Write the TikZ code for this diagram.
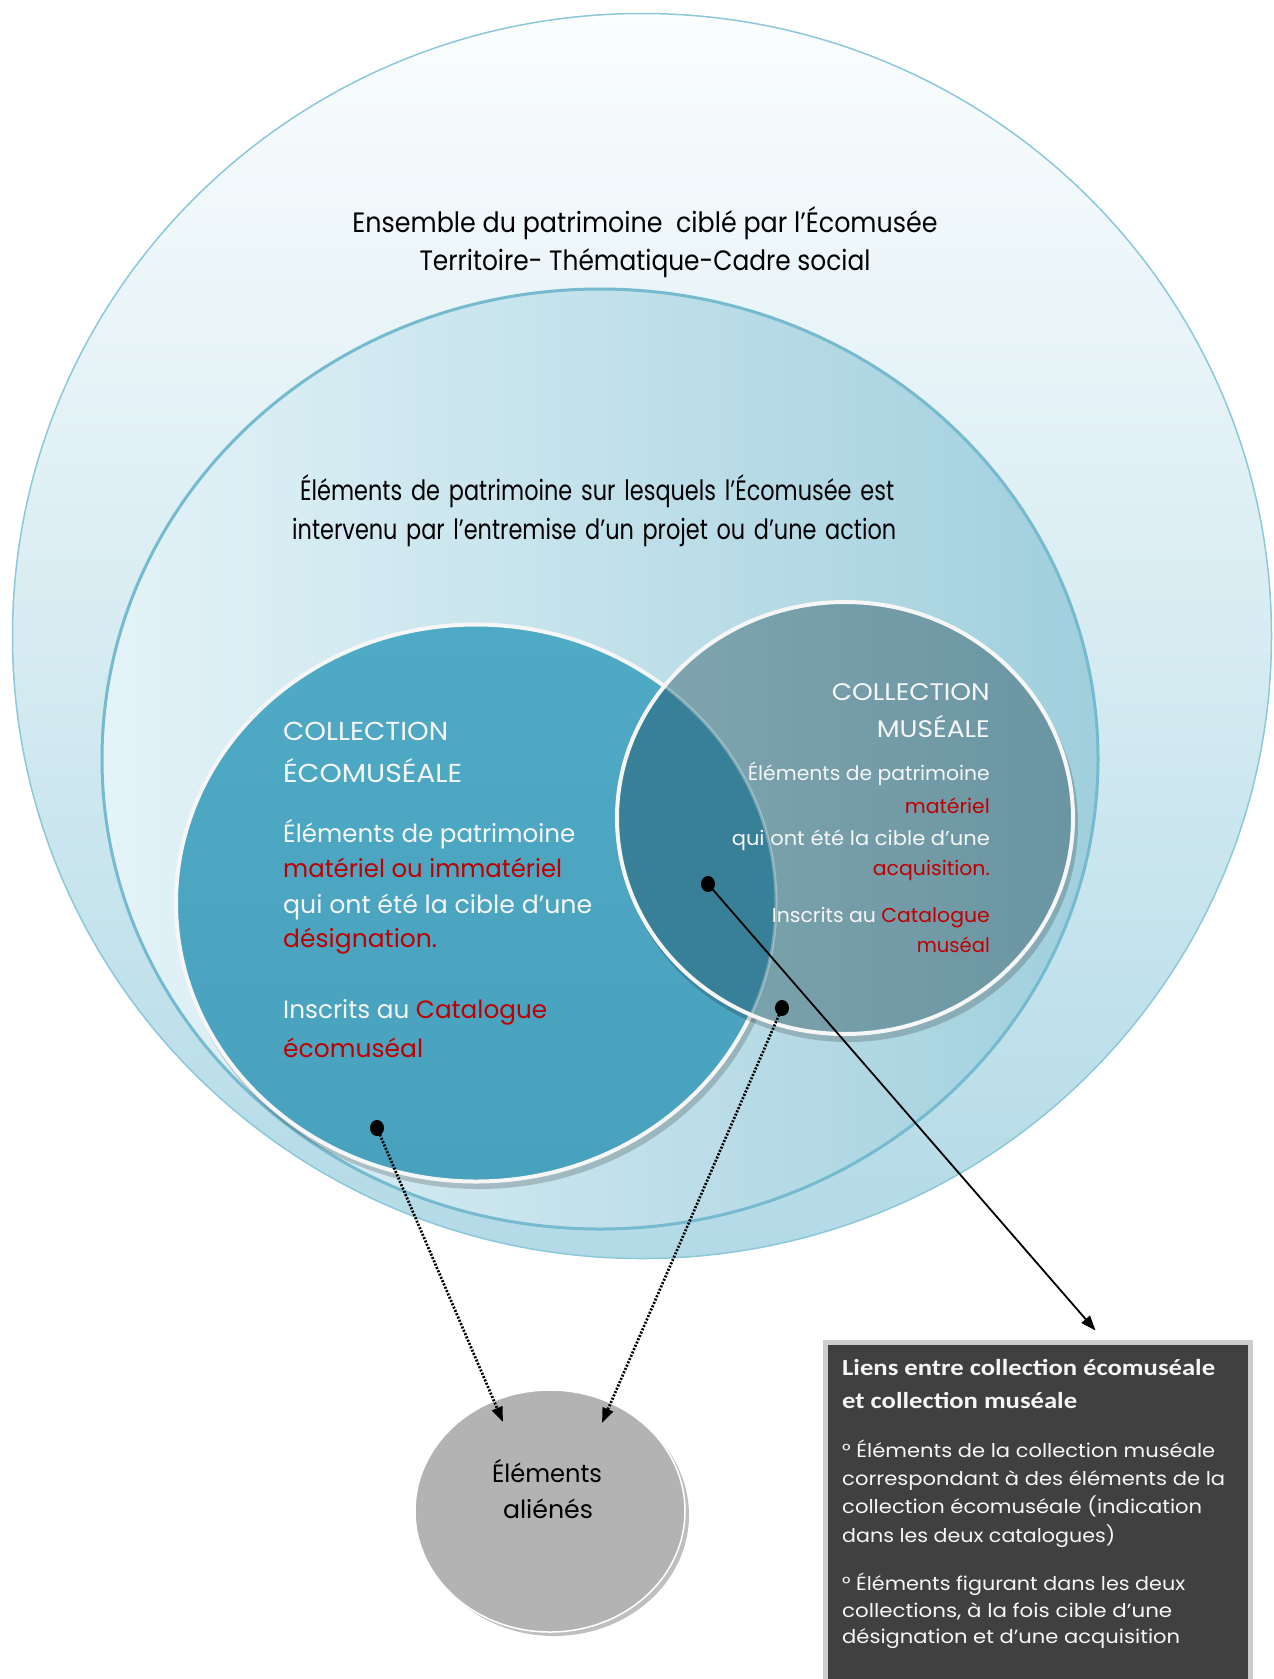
\documentclass[tikz,border=0pt]{standalone}
\usepackage{fontspec}
\usepackage{graphicx}
\setmainfont{Poppins}
\newfontfamily\narrowfont[FakeStretch=0.8]{Poppins}
\newfontfamily\titlefont{Carlito}
\usetikzlibrary{arrows.meta,calc,shapes.geometric}
\newcommand\fz[1]{\fontsize{#1}{#1}\selectfont}
\newcommand\fw[2]{\resizebox{#1pt}{\height}{#2}}
\definecolor{outTop}{RGB}{251,253,254}
\definecolor{outBot}{RGB}{178,218,230}
\definecolor{outB}{RGB}{140,200,218}
\definecolor{midL}{RGB}{228,243,248}
\definecolor{midR}{RGB}{160,207,221}
\definecolor{midB}{RGB}{118,186,207}
\definecolor{ecoF}{RGB}{79,170,197}
\definecolor{ecoF2}{RGB}{72,161,189}
\definecolor{musL}{RGB}{128,166,176}
\definecolor{musR}{RGB}{106,149,162}
\definecolor{ovF}{RGB}{55,128,151}
\definecolor{redT}{RGB}{192,0,0}
\definecolor{txtW}{RGB}{246,246,246}
\definecolor{boxF}{RGB}{64,64,64}
\definecolor{boxB}{RGB}{205,205,205}
\definecolor{alF}{RGB}{179,179,179}
\begin{document}
\begin{tikzpicture}[x=1pt,y=-1pt,
  wtxt/.style={text=txtW, inner sep=0pt, anchor=base west},
  wtxtr/.style={text=txtW, inner sep=0pt, anchor=base east},
  ktxt/.style={text=black, inner sep=0pt, anchor=base},
  ktxtl/.style={text=black, inner sep=0pt, anchor=base west},
  btxt/.style={text=txtW, inner sep=0pt, anchor=base west},
  blob/.style={ellipse, inner sep=0pt},
  dotarrow/.style={line width=2.7pt, dash pattern=on 2pt off 1.6pt, -{Triangle[length=15pt,width=11pt]}},
  solarrow/.style={line width=1.8pt, -{Triangle[length=15pt,width=11pt]}},
  pin/.style={fill=black}
]
\useasboundingbox (0,0) rectangle (1274,1679);
\fill[white] (0,0) rectangle (1274,1679);

% outer circle
\node[blob, minimum width=1259pt, minimum height=1245pt, top color=outTop, bottom color=outBot, draw=outB, line width=1.5pt] (outer) at (642,636) {};
% middle ellipse
\node[blob, minimum width=996pt, minimum height=940pt, left color=midL, right color=midR, draw=midB, line width=3pt] (mid) at (600,759) {};
% ecomuseale
\fill[black, opacity=0.18] (479,909) ellipse [x radius=302, y radius=280];
\node[blob, minimum width=600pt, minimum height=557pt, top color=ecoF, bottom color=ecoF2, draw=txtW, line width=4pt] (eco) at (476,903) {};
% museale
\fill[black, opacity=0.18] (848,824) ellipse [x radius=230, y radius=218];
\node[blob, minimum width=456pt, minimum height=432pt, left color=musL, right color=musR] (mus) at (845,818) {};
\begin{scope}
  \clip (mus.center) ellipse [x radius=228, y radius=216];
  \fill[ovF] (eco.center) ellipse [x radius=300, y radius=278.5];
  \draw[white, opacity=0.3, line width=3pt] (eco.center) ellipse [x radius=300, y radius=278.5];
\end{scope}
\draw[txtW, line width=4pt] (mus.center) ellipse [x radius=228, y radius=216];

% alienes
\fill[black, opacity=0.25] (554,1515) ellipse [x radius=135, y radius=121];
\node[blob, minimum width=270pt, minimum height=242pt, fill=alF, draw=white, line width=1.5pt] (al) at (550,1511) {};

% box
\node[draw=boxB, line width=5pt, fill=boxF, minimum width=425pt, minimum height=345pt, inner sep=0pt] (liens) at (1037.5,1514.5) {};

% texts top
\node[ktxt] (t1) at (645,232) {\fw{585}{\fz{28}Ensemble du patrimoine\ \ ciblé par l’Écomusée}};
\node[ktxt] (t2) at (645,270) {\fw{451}{\fz{28}Territoire- Thématique-Cadre social}};
\node[ktxtl] (t3) at (300,500) {\narrowfont\fz{28}\makebox[594pt][s]{Éléments de patrimoine sur lesquels l’Écomusée est}};
\node[ktxtl] (t4) at (292,539) {\narrowfont\fz{28}\makebox[604pt][s]{intervenu par l’entremise d’un projet ou d’une action}};

% ecomuseale texts
\node[wtxt] (e1) at (283,740) {\fw{165}{\fz{26}COLLECTION}};
\node[wtxt] (e2) at (283,782) {\fw{179}{\fz{26}ÉCOMUSÉALE}};
\node[wtxt] (e3) at (283,842) {\fw{292}{\fz{25}Éléments de patrimoine}};
\node[wtxt] (e4) at (283,877) {\fw{279}{\fz{25}\color{redT}matériel ou immatériel}};
\node[wtxt] (e5) at (283,913) {\fw{309}{\fz{25}qui ont été la cible d’une}};
\node[wtxt] (e6) at (283,947) {\fw{154}{\fz{25}\color{redT}désignation.}};
\node[wtxt] (e7) at (283,1018) {\fw{264}{\fz{25}Inscrits au \textcolor{redT}{Catalogue}}};
\node[wtxt] (e8) at (283,1057) {\fw{140}{\fz{25}\color{redT}écomuséal}};

% museale texts
\node[wtxtr] (m1) at (990,700) {\fw{158}{\fz{24}COLLECTION}};
\node[wtxtr] (m2) at (990,737) {\fw{113}{\fz{24}MUSÉALE}};
\node[wtxtr] (m3) at (990,780) {\fw{242}{\fz{20}Éléments de patrimoine}};
\node[wtxtr] (m4) at (990,813) {\fw{85}{\fz{20}\color{redT}matériel}};
\node[wtxtr] (m5) at (990,845) {\fw{258}{\fz{20}qui ont été la cible d’une}};
\node[wtxtr] (m6) at (990,875) {\fw{117}{\fz{20}\color{redT}acquisition.}};
\node[wtxtr] (m7) at (990,922) {\fw{218}{\fz{20}Inscrits au \textcolor{redT}{Catalogue}}};
\node[wtxtr] (m8) at (990,952) {\fw{73}{\fz{20}\color{redT}muséal}};

% alienes text
\node[ktxt] (a1) at (547,1482) {\fw{110}{\fz{25}Éléments}};
\node[ktxt] (a2) at (548,1518) {\fw{90}{\fz{25}aliénés}};

% box texts
\node[btxt] (b1) at (842,1375) {\fw{373}{\titlefont\bfseries\fz{23}Liens entre collection écomuséale}};
\node[btxt] (b2) at (842,1408) {\fw{235}{\titlefont\bfseries\fz{23}et collection muséale}};
\node[btxt] (b3) at (842,1457) {\fw{373}{\fz{19}° Éléments de la collection muséale}};
\node[btxt] (b4) at (842,1485) {\fw{383}{\fz{19}correspondant à des éléments de la}};
\node[btxt] (b5) at (842,1513) {\fw{360}{\fz{19}collection écomuséale (indication}};
\node[btxt] (b6) at (842,1542) {\fw{273}{\fz{19}dans les deux catalogues)}};
\node[btxt] (b7) at (842,1590) {\fw{343}{\fz{19}° Éléments figurant dans les deux}};
\node[btxt] (b8) at (842,1617) {\fw{330}{\fz{19}collections, à la fois cible d’une}};
\node[btxt] (b9) at (842,1643) {\fw{338}{\fz{19}désignation et d’une acquisition}};

% pins and connectors
\coordinate (d1) at (377,1128);
\coordinate (d2) at (782,1008);
\coordinate (d3) at (708,884);
\coordinate (tip1) at ($(al.center)+(-47,-89)$);
\coordinate (tip2) at ($(al.center)+(52,-88)$);
\coordinate (tip3) at ($(liens.north)+(58,-9)$);
\fill[pin] (d1) ellipse [x radius=7, y radius=8];
\fill[pin] (d2) ellipse [x radius=7, y radius=8];
\fill[pin] (d3) ellipse [x radius=7, y radius=8];
\draw[dotarrow] (d1) -- (tip1);
\draw[dotarrow] (d2) -- (tip2);
\draw[solarrow] (d3) -- (tip3);
\end{tikzpicture}
\end{document}
